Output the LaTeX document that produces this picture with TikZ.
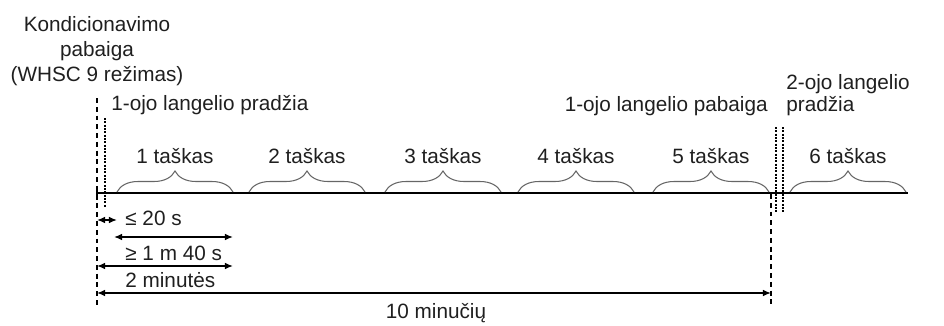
\documentclass[tikz,border=0pt]{standalone}
\usepackage{fontspec}
\setmainfont{Liberation Sans}
\usetikzlibrary{arrows.meta,decorations.pathreplacing}

\begin{document}
\begin{tikzpicture}[x=0.02cm, y=-0.02cm,
        txt/.style={inner sep=0pt, text=black!88, font=\fontsize{11.8}{14.2}\selectfont},
        mark line/.style={line width=1.6pt, dash pattern=on 2.8pt off 2.2pt},
        win line/.style={line width=1.3pt, dash pattern=on 1.1pt off 0.8pt},
        dim arrow/.style={line width=0.8pt, {Latex[length=4.6pt,width=3.8pt]}-{Latex[length=4.6pt,width=3.8pt]}},
        pt brace/.style={draw=black!60, line width=0.6pt, decorate, decoration={brace, amplitude=0.42cm}}]
        %\draw [help lines] (0,0) grid [step=50] (944,325);
        \useasboundingbox (0,0) rectangle (944,325);

        % time axis and window markers
        \coordinate (axis start) at (97,193);
        \coordinate (axis end) at (908,193);
        \coordinate (cond top) at (97,98);
        \coordinate (cond bot) at (97,306);
        \coordinate (w1 top) at (105,118);
        \coordinate (w1 bot) at (105,208);
        \coordinate (end top) at (771,194);
        \coordinate (end bot) at (771,306);
        \coordinate (w2a top) at (776,127);
        \coordinate (w2a bot) at (776,212);
        \coordinate (w2b top) at (783,127);
        \coordinate (w2b bot) at (783,212);

        \draw [line width=1.1pt] (axis start) -- (axis end);
        \draw [line width=0.9pt] (97,186) -- (97,200);
        \draw [mark line] (cond top) -- (cond bot);
        \draw [mark line] (end top) -- (end bot);
        \draw [win line] (w1 top) -- (w1 bot);
        \draw [win line] (w2a top) -- (w2a bot);
        \draw [win line] (w2b top) -- (w2b bot);

        % the six points
        \foreach \n/\xa in {1/117, 2/249, 3/385, 4/518, 5/653, 6/790} {
            \draw [pt brace] (\xa,192) -- ++(116,0);
            \node [txt, anchor=base] (pt\n) at (\xa+58,163) {\n~taškas};
        }

        \node [txt, align=center] (cond) at (97,51) {Kondicionavimo\\pabaiga\\(WHSC 9 režimas)};
        \node [txt, anchor=base west] (w1 start) at (111,110) {1-ojo langelio pradžia};
        \node [txt, anchor=base east] (w1 end) at (768,111) {1-ojo langelio pabaiga};
        \node [txt, align=left, anchor=north west] (w2 start) at (786,74) {2-ojo langelio\\[-1.5pt]pradžia};

        % durations
        \coordinate (s0) at (97,220);
        \coordinate (s1) at (117,220);
        \coordinate (m0) at (114,237);
        \coordinate (m1) at (233,237);
        \coordinate (t0) at (97,266);
        \coordinate (t1) at (233,266);
        \coordinate (z0) at (97,293);
        \coordinate (z1) at (771,293);

        \draw [dim arrow] (s0) -- (s1);
        \draw [dim arrow] (m0) -- (m1);
        \draw [dim arrow] (t0) -- (t1);
        \draw [dim arrow] (z0) -- (z1);

        \node [txt, anchor=base west] (le20) at (125,225) {≤ 20 s};
        \node [txt, anchor=base west] (ge100) at (125,260) {≥ 1 m 40 s};
        \node [txt, anchor=base west] (two) at (125,287) {2 minutės};
        \node [txt, anchor=base] (ten) at (436,318) {10 minučių};

    \end{tikzpicture}
\end{document}
